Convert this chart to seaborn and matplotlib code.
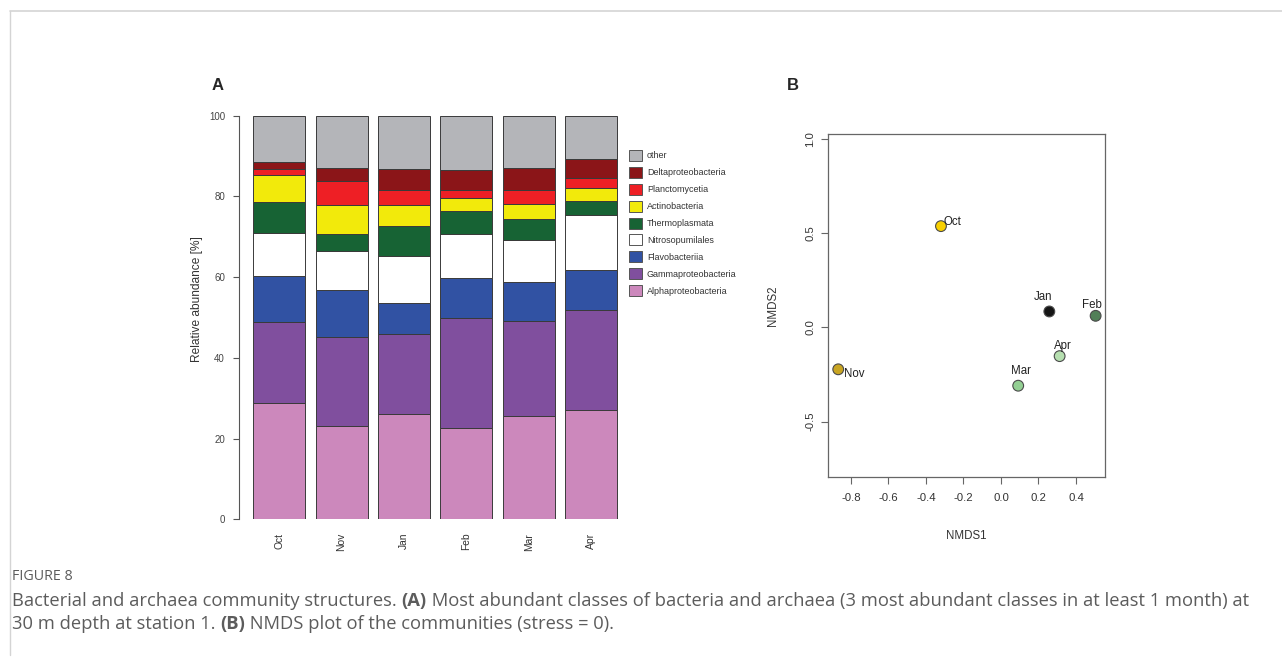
import numpy as np
import pandas as pd
import matplotlib
matplotlib.use("Agg")
import matplotlib.pyplot as plt
from matplotlib.patches import Patch
from matplotlib.lines import Line2D
import seaborn as sns

# ---------------- data ----------------
months = ["Oct", "Nov", "Jan", "Feb", "Mar", "Apr"]
classes = ["other", "Deltaproteobacteria", "Planctomycetia", "Actinobacteria",
           "Thermoplasmata", "Nitrosopumilales", "Flavobacteriia",
           "Gammaproteobacteria", "Alphaproteobacteria"]
alpha_p = [28.7, 23.2, 26.0, 22.7, 25.5, 27.0]
gamma_p = [20.1, 21.9, 20.0, 27.1, 23.6, 24.9]
flavo = [11.6, 11.7, 7.6, 10.0, 9.7, 9.9]
nitroso = [10.5, 9.8, 11.6, 11.0, 10.3, 13.6]
thermo = [7.7, 4.0, 7.6, 5.6, 5.2, 3.5]
actino = [6.8, 7.4, 5.2, 3.2, 3.9, 3.3]
plancto = [1.5, 5.9, 3.7, 2.0, 3.3, 2.4]
delta_p = [1.7, 3.1, 5.1, 4.9, 5.6, 4.7]
other = [11.4, 13.0, 13.2, 13.5, 12.9, 10.7]
class_colors = ["#B4B5B9", "#8B1518", "#EE1F25", "#F2EA0B", "#176334",
                "#FFFFFF", "#3152A3", "#804F9E", "#CC88BC"]

nmds_months = ["Oct", "Nov", "Jan", "Feb", "Mar", "Apr"]
nmds1 = [-0.32, -0.868, 0.258, 0.505, 0.092, 0.313]
nmds2 = [0.538, -0.222, 0.085, 0.062, -0.309, -0.152]
point_colors = ["#F8D000", "#C9A522", "#151515", "#527F58", "#93CF93", "#B6DFB0"]
# label offsets (pixels) relative to points
label_dx = [3, 6, -6.6, -3.4, 2.7, 3.3]
label_dy = [4, -5, 14.6, 10.7, 14.7, 10.0]
label_ha = ["left", "left", "center", "center", "center", "center"]

values = {"other": other, "Deltaproteobacteria": delta_p, "Planctomycetia": plancto,
          "Actinobacteria": actino, "Thermoplasmata": thermo,
          "Nitrosopumilales": nitroso, "Flavobacteriia": flavo,
          "Gammaproteobacteria": gamma_p, "Alphaproteobacteria": alpha_p}
rows = []
for i, m in enumerate(months):
    for c in classes:
        rows.append({"month": m, "cls": c, "val": values[c][i]})
df = pd.DataFrame(rows)
df["month"] = pd.Categorical(df["month"], categories=months, ordered=True)

# ---------------- figure ----------------
sns.set_style("white")
plt.rcParams["font.family"] = ["Liberation Sans", "DejaVu Sans"]
plt.rcParams["axes.unicode_minus"] = False

W, H = 1282, 657
fig = plt.figure(figsize=(W / 100, H / 100), dpi=100)
PX = 72 / 100  # points per pixel


def fr(x0, y0, x1, y1):
    return [x0 / W, 1 - y1 / H, (x1 - x0) / W, (y1 - y0) / H]


# ---------- panel A ----------
axA = fig.add_axes(fr(239, 99.6, 631.4, 519.3))
palette = dict(zip(classes, class_colors))
sns.histplot(data=df, x="month", weights="val", hue="cls", hue_order=classes,
             multiple="stack", discrete=True, shrink=0.834, palette=palette,
             alpha=1, edgecolor="#3a3a3a", linewidth=0.7, legend=False, ax=axA)
axA.set_xlim(-0.645, 5.645)
axA.set_ylim(0, 104)
for s in ["top", "right", "bottom"]:
    axA.spines[s].set_visible(False)
axA.spines["left"].set_bounds(0, 100)
axA.spines["left"].set_color("#555555")
axA.spines["left"].set_linewidth(0.8)
axA.set_yticks([0, 20, 40, 60, 80, 100])
axA.tick_params(axis="y", left=True, length=6 * PX, width=0.8, color="#555555",
                labelsize=7.0, labelcolor="#444444", pad=8 * PX)
axA.set_xticks(range(len(months)))
axA.set_xticklabels(months, rotation=90)
axA.tick_params(axis="x", bottom=False, length=0, labelsize=7.4,
                labelcolor="#333333", pad=13.5 * PX)
axA.set_xlabel("")
axA.set_ylabel("Relative abundance [%]", fontsize=8.6, color="#333333")
axA.yaxis.set_label_coords(-0.091, 0.525)
axA.grid(False)

handles = [Patch(facecolor=c, edgecolor="#555555", linewidth=0.7) for c in class_colors]
fig.legend(handles, classes, loc="upper left",
           bbox_to_anchor=(629 / W, 1 - 150 / H), bbox_transform=fig.transFigure,
           frameon=False, fontsize=6.5, handlelength=1.44, handleheight=1.5,
           labelspacing=0.65, handletextpad=0.55, borderpad=0, borderaxespad=0,
           labelcolor="#333333")

# ---------- panel B ----------
axB = fig.add_axes(fr(828.3, 134, 1105, 476.7))
sns.scatterplot(x=nmds1, y=nmds2, hue=nmds_months, palette=dict(zip(nmds_months, point_colors)),
                s=60, edgecolor="#4a4a4a", linewidth=0.8, legend=False, ax=axB, zorder=3)
for xv, yv, lab, dx, dy, ha in zip(nmds1, nmds2, nmds_months, label_dx, label_dy, label_ha):
    axB.annotate(lab, (xv, yv), xytext=(dx * PX, dy * PX), textcoords="offset points",
                 ha=ha, va="center", fontsize=8.3, color="#222222")
axB.set_xlim(-0.921, 0.555)
axB.set_ylim(-0.792, 1.027)
axB.set_xticks([-0.8, -0.6, -0.4, -0.2, 0.0, 0.2, 0.4])
axB.set_xticklabels(["-0.8", "-0.6", "-0.4", "-0.2", "0.0", "0.2", "0.4"])
axB.set_yticks([-0.5, 0.0, 0.5, 1.0])
axB.set_yticklabels(["-0.5", "0.0", "0.5", "1.0"], rotation=90, va="center")
for s in axB.spines.values():
    s.set_color("#666666")
    s.set_linewidth(0.9)
axB.tick_params(axis="both", length=7 * PX, width=0.8, color="#666666",
                labelsize=8.2, labelcolor="#333333")
axB.tick_params(axis="x", pad=9 * PX, bottom=True)
axB.tick_params(axis="y", pad=6 * PX, left=True)
axB.set_xlabel("NMDS1", fontsize=8.3, color="#333333")
axB.set_ylabel("NMDS2", fontsize=8.3, color="#333333")
axB.xaxis.set_label_coords(0.5, -0.155)
axB.yaxis.set_label_coords(-0.177, 0.5)
axB.grid(False)

# panel letters
fig.text(218 / W, 1 - 86 / H, "A", fontsize=12, fontweight="bold", ha="center", va="center")
fig.text(793 / W, 1 - 86 / H, "B", fontsize=12, fontweight="bold", ha="center", va="center")

# frame lines
fig.add_artist(Line2D([9.5 / W, 1], [1 - 11 / H, 1 - 11 / H], transform=fig.transFigure,
                      color="#d4d4d4", linewidth=1.2))
fig.add_artist(Line2D([9.5 / W, 9.5 / W], [1 - 11 / H, 1 - 655 / H], transform=fig.transFigure,
                      color="#d4d4d4", linewidth=1.0))

# caption
cap_color = "#5c5c5c"
cap_font = ["Open Sans", "DejaVu Sans"]
fig.text(12 / W, 1 - 577 / H, "FIGURE 8", fontsize=10.3, color=cap_color,
         family=cap_font, va="center", ha="left")

fig.canvas.draw()
renderer = fig.canvas.get_renderer()


def rich_line(x_px, y_px, parts, size):
    x = x_px
    for txt, bold in parts:
        t = fig.text(x / W, 1 - y_px / H, txt, fontsize=size, color=cap_color,
                     family=cap_font, fontweight="bold" if bold else "normal",
                     va="center", ha="left")
        bb = t.get_window_extent(renderer=renderer)
        x += bb.width


cap_size = 13.25
rich_line(12, 601, [("Bacterial and archaea community structures. ", False), ("(A)", True),
                    (" Most abundant classes of bacteria and archaea (3 most abundant classes in at least 1 month) at", False)],
          cap_size)
rich_line(12, 624, [("30 m depth at station 1. ", False), ("(B)", True),
                    (" NMDS plot of the communities (stress = 0).", False)], cap_size)

fig.savefig("out.png", dpi=100)
